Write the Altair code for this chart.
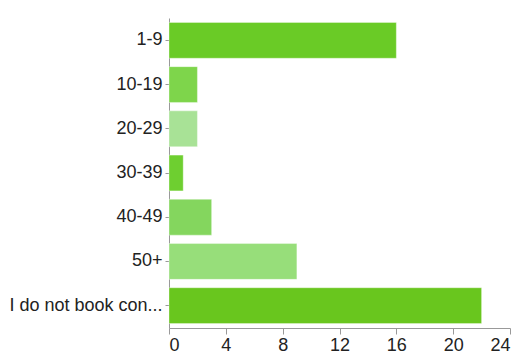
import altair as alt
import pandas as pd

categories = ["1-9", "10-19", "20-29", "30-39", "40-49", "50+", "I do not book con..."]
values = [16, 2, 2, 1, 3, 9, 22]
colors = ["#6ACB26", "#7ED54B", "#A8E296", "#6ECF30", "#84D65E", "#97DE7A", "#69C61E"]

df = pd.DataFrame({"cat": categories, "val": values, "col": colors})

chart = alt.Chart(df).mark_bar(strokeWidth=1, strokeOpacity=0.35, stroke="#ffffff").encode(
    y=alt.Y("cat:N", sort=categories, title=None,
            scale=alt.Scale(paddingInner=0.19, paddingOuter=0.1),
            axis=alt.Axis(labelFont="Liberation Sans", labelFontSize=18, labelColor="#222222",
                          labelLimit=300, tickSize=4, tickColor="#999999",
                          domainColor="#999999", labelPadding=3)),
    x=alt.X("val:Q", title=None,
            scale=alt.Scale(domain=[0, 24]),
            axis=alt.Axis(values=[0, 4, 8, 12, 16, 20, 24], grid=False,
                          labelFont="Liberation Sans", labelFontSize=18, labelColor="#222222",
                          tickSize=6, tickColor="#999999", domainColor="#999999",
                          labelPadding=2)),
    color=alt.Color("col:N", scale=None),
).properties(
    width=341, height=310,
    autosize=alt.AutoSizeParams(type="none"),
    padding={"left": 169, "top": 18, "right": 11, "bottom": 30},
).configure_view(stroke=None)

chart.save("out.html", embed_options={"renderer": "svg", "actions": False})
